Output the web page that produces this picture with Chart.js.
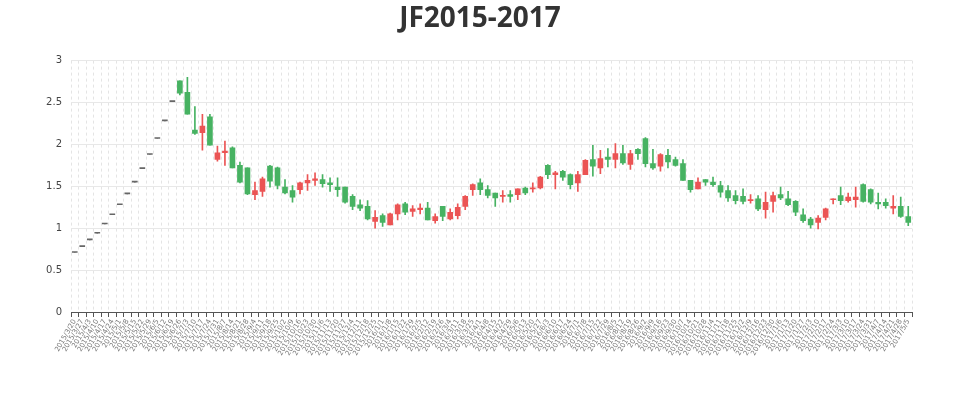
<!DOCTYPE html>
<html>
<head>
<meta charset="utf-8">
<script src="https://cdn.jsdelivr.net/npm/chart.js@4.4.0/dist/chart.umd.min.js"></script>
<style>
  html, body { margin: 0; padding: 0; background: #fff; }
  #wrap { width: 960px; height: 400px; }
</style>
</head>
<body>
<div id="wrap"><canvas id="myChart" width="960" height="400"></canvas></div>
<script>
const dates = [
    '2015/3/20', '2015/3/27', '2015/4/3', '2015/4/10', '2015/4/17', '2015/4/24', '2015/5/1', '2015/5/8',
    '2015/5/15', '2015/5/22', '2015/5/29', '2015/6/5', '2015/6/12', '2015/6/19', '2015/6/26', '2015/7/3',
    '2015/7/10', '2015/7/17', '2015/7/24', '2015/7/31', '2015/8/7', '2015/8/14', '2015/8/21', '2015/8/28',
    '2015/9/4', '2015/9/11', '2015/9/18', '2015/9/25', '2015/10/2', '2015/10/9', '2015/10/16', '2015/10/23',
    '2015/10/30', '2015/11/6', '2015/11/13', '2015/11/20', '2015/11/27', '2015/12/4', '2015/12/11', '2015/12/18',
    '2015/12/25', '2016/1/1', '2016/1/8', '2016/1/15', '2016/1/22', '2016/1/29', '2016/2/5', '2016/2/12',
    '2016/2/19', '2016/2/26', '2016/3/4', '2016/3/11', '2016/3/18', '2016/3/25', '2016/4/1', '2016/4/8',
    '2016/4/15', '2016/4/22', '2016/4/29', '2016/5/6', '2016/5/13', '2016/5/20', '2016/5/27', '2016/6/3',
    '2016/6/10', '2016/6/17', '2016/6/24', '2016/7/1', '2016/7/8', '2016/7/15', '2016/7/22', '2016/7/29',
    '2016/8/5', '2016/8/12', '2016/8/19', '2016/8/26', '2016/9/2', '2016/9/9', '2016/9/16', '2016/9/23',
    '2016/9/30', '2016/10/7', '2016/10/14', '2016/10/21', '2016/10/28', '2016/11/4', '2016/11/11', '2016/11/18',
    '2016/11/25', '2016/12/2', '2016/12/9', '2016/12/16', '2016/12/23', '2016/12/30', '2017/1/6', '2017/1/13',
    '2017/1/20', '2017/1/27', '2017/2/3', '2017/2/10', '2017/2/17', '2017/2/24', '2017/3/3', '2017/3/10',
    '2017/3/17', '2017/3/24', '2017/3/31', '2017/4/7', '2017/4/14', '2017/4/21', '2017/4/28', '2017/5/5'
];

const openVals = [
    0.71, 0.78, 0.86, 0.94, 1.05, 1.16, 1.28, 1.41, 1.55, 1.71, 1.88, 2.07, 2.28, 2.51,
    2.76, 2.62, 2.17, 2.14, 2.33, 1.82, 1.90, 1.96, 1.75, 1.72, 1.40, 1.44, 1.74, 1.72,
    1.49, 1.45, 1.46, 1.54, 1.57, 1.58, 1.54, 1.49, 1.49, 1.38, 1.28, 1.26, 1.08, 1.15,
    1.04, 1.17, 1.29, 1.20, 1.22, 1.24, 1.09, 1.26, 1.11, 1.15, 1.26, 1.46, 1.54, 1.46,
    1.42, 1.38, 1.40, 1.40, 1.48, 1.47, 1.48, 1.75, 1.64, 1.68, 1.64, 1.54, 1.64, 1.82,
    1.72, 1.85, 1.82, 1.89, 1.76, 1.94, 2.07, 1.77, 1.74, 1.87, 1.82, 1.77, 1.57, 1.47,
    1.58, 1.55, 1.51, 1.45, 1.39, 1.38, 1.33, 1.35, 1.22, 1.32, 1.40, 1.35, 1.32, 1.16,
    1.11, 1.07, 1.13, 1.34, 1.39, 1.33, 1.34, 1.52, 1.46, 1.31, 1.31, 1.24, 1.26, 1.14
];
const closeVals = [
    0.71, 0.78, 0.86, 0.94, 1.05, 1.16, 1.28, 1.41, 1.55, 1.71, 1.88, 2.07, 2.28, 2.51,
    2.61, 2.36, 2.13, 2.22, 1.99, 1.90, 1.92, 1.72, 1.55, 1.41, 1.45, 1.59, 1.56, 1.51,
    1.42, 1.37, 1.54, 1.57, 1.59, 1.53, 1.52, 1.46, 1.31, 1.26, 1.24, 1.11, 1.13, 1.07,
    1.17, 1.28, 1.19, 1.23, 1.24, 1.10, 1.14, 1.14, 1.19, 1.25, 1.38, 1.52, 1.46, 1.39,
    1.36, 1.39, 1.38, 1.47, 1.42, 1.48, 1.61, 1.64, 1.66, 1.61, 1.52, 1.64, 1.81, 1.74,
    1.83, 1.82, 1.89, 1.78, 1.89, 1.89, 1.77, 1.72, 1.88, 1.79, 1.75, 1.57, 1.46, 1.55,
    1.55, 1.52, 1.43, 1.36, 1.33, 1.32, 1.34, 1.23, 1.31, 1.39, 1.36, 1.28, 1.19, 1.09,
    1.04, 1.12, 1.23, 1.35, 1.33, 1.37, 1.37, 1.32, 1.31, 1.29, 1.27, 1.26, 1.14, 1.07
];
const highVals = [
    0.71, 0.78, 0.86, 0.94, 1.05, 1.16, 1.28, 1.41, 1.55, 1.71, 1.88, 2.07, 2.28, 2.51,
    2.76, 2.80, 2.45, 2.36, 2.36, 1.98, 2.04, 1.97, 1.79, 1.72, 1.55, 1.61, 1.75, 1.73,
    1.58, 1.51, 1.55, 1.64, 1.66, 1.64, 1.60, 1.60, 1.49, 1.40, 1.34, 1.33, 1.21, 1.17,
    1.18, 1.29, 1.31, 1.27, 1.29, 1.31, 1.17, 1.26, 1.23, 1.29, 1.39, 1.53, 1.59, 1.51,
    1.42, 1.45, 1.45, 1.47, 1.49, 1.54, 1.62, 1.76, 1.68, 1.69, 1.65, 1.68, 1.82, 1.99,
    1.93, 1.95, 2.01, 1.99, 1.93, 1.95, 2.08, 1.94, 1.89, 1.94, 1.85, 1.82, 1.57, 1.60,
    1.58, 1.61, 1.56, 1.51, 1.45, 1.47, 1.40, 1.39, 1.43, 1.43, 1.49, 1.44, 1.33, 1.23,
    1.13, 1.15, 1.24, 1.35, 1.49, 1.42, 1.49, 1.53, 1.47, 1.42, 1.35, 1.39, 1.37, 1.26
];
const lowVals = [
    0.71, 0.78, 0.86, 0.94, 1.05, 1.16, 1.28, 1.41, 1.55, 1.71, 1.88, 2.07, 2.28, 2.51,
    2.59, 2.36, 2.12, 1.93, 1.99, 1.80, 1.75, 1.72, 1.54, 1.40, 1.34, 1.38, 1.49, 1.47,
    1.41, 1.31, 1.41, 1.45, 1.51, 1.49, 1.44, 1.38, 1.30, 1.22, 1.21, 1.10, 1.00, 1.02,
    1.04, 1.10, 1.16, 1.14, 1.17, 1.10, 1.06, 1.09, 1.10, 1.11, 1.22, 1.39, 1.40, 1.36,
    1.26, 1.31, 1.31, 1.34, 1.40, 1.43, 1.47, 1.59, 1.47, 1.57, 1.47, 1.44, 1.64, 1.62,
    1.65, 1.73, 1.72, 1.76, 1.70, 1.82, 1.73, 1.70, 1.68, 1.72, 1.74, 1.57, 1.43, 1.47,
    1.51, 1.50, 1.37, 1.32, 1.29, 1.29, 1.30, 1.21, 1.12, 1.19, 1.34, 1.27, 1.15, 1.07,
    1.00, 0.99, 1.10, 1.29, 1.28, 1.31, 1.25, 1.31, 1.29, 1.23, 1.24, 1.17, 1.13, 1.03
];

const yTicks = [0, 0.5, 1, 1.5, 2, 2.5, 3];

const upColor = '#eb5454';
const downColor = '#47b262';
const flatColor = '#666';

function candleColor(i) {
    if (closeVals[i] > openVals[i]) return upColor;
    if (closeVals[i] < openVals[i]) return downColor;
    return flatColor;
}

const colors = dates.map((d, i) => candleColor(i));
const wicks = dates.map((d, i) => [lowVals[i], highVals[i]]);
const bodies = dates.map((d, i) => [openVals[i], closeVals[i]]);

const ctx = document.getElementById('myChart').getContext('2d');
const myChart = new Chart(ctx, {
    type: 'bar',
    data: {
        labels: dates,
        datasets: [{
            label: 'wick',
            data: wicks,
            backgroundColor: colors,
            barThickness: 1,
            grouped: false,
            order: 2
        }, {
            label: 'JF',
            data: bodies,
            backgroundColor: colors,
            barThickness: 5,
            minBarLength: 1,
            grouped: false,
            order: 1
        }]
    },
    options: {
        responsive: false,
        animation: false,
        layout: { padding: { left: 42, right: 42, top: 0, bottom: 0 } },
        plugins: {
            legend: { display: false },
            tooltip: { enabled: false },
            title: {
                display: true,
                text: 'JF2015-2017',
                color: '#333',
                font: { family: 'Noto Sans', size: 28, weight: 'bold' },
                padding: { top: 2, bottom: 25 }
            }
        },
        scales: {
            x: {
                type: 'category',
                offset: true,
                grid: {
                    offset: true,
                    color: '#e4e4e4',
                    tickColor: '#555',
                    tickLength: 5,
                    drawTicks: true
                },
                border: { display: true, color: '#555', width: 1, dash: [3, 3] },
                ticks: {
                    autoSkip: false,
                    minRotation: 60,
                    maxRotation: 60,
                    padding: 1,
                    color: '#777',
                    font: { family: 'DejaVu Sans', size: 7 }
                },
                afterFit: function(scale) { scale.height = 88; }
            },
            y: {
                min: 0,
                max: 3,
                afterBuildTicks: function(scale) {
                    scale.ticks = yTicks.map(v => ({ value: v }));
                },
                grid: { color: '#e8e8e8', drawTicks: false },
                border: { display: false },
                ticks: {
                    padding: 9,
                    color: '#444',
                    font: { family: 'DejaVu Sans', size: 10 },
                    callback: function(value) { return String(value); }
                },
                afterFit: function(scale) { scale.width = 29; }
            },
            yRight: {
                position: 'right',
                display: true,
                grid: { drawOnChartArea: false, drawTicks: false },
                border: { display: false },
                ticks: { display: false },
                afterFit: function(scale) { scale.width = 6; }
            }
        }
    }
});
</script>
</body>
</html>
